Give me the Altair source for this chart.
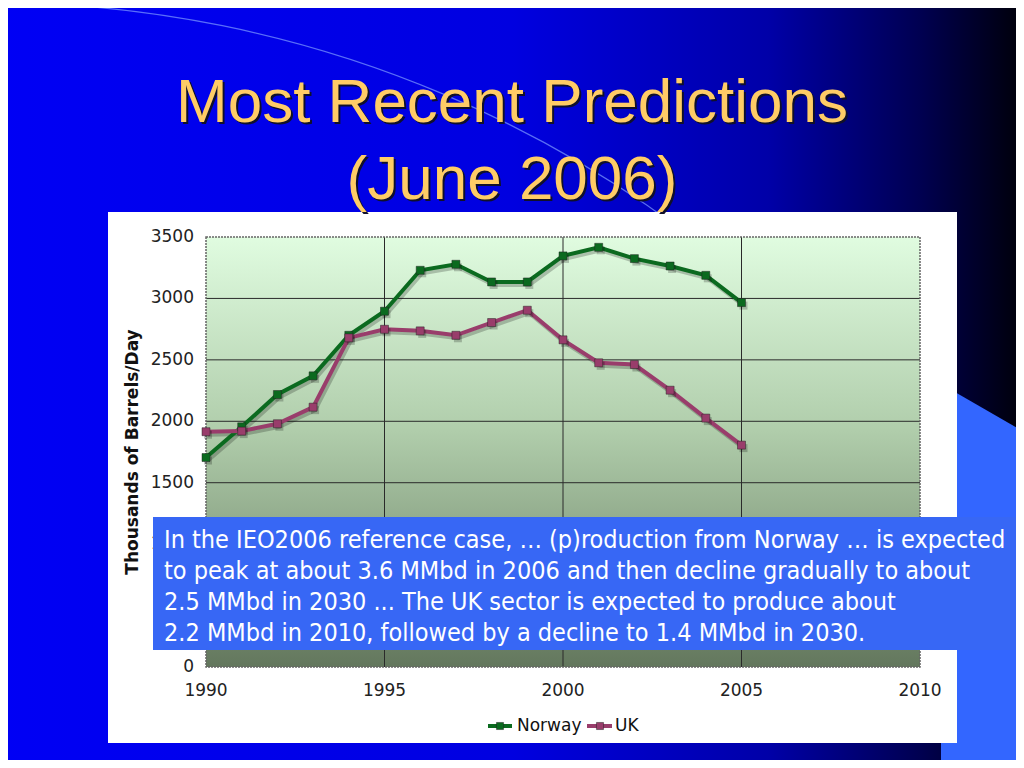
import altair as alt
import pandas as pd

# ---------------- data ----------------
years = list(range(1990, 2006))
norway = [1705, 1955, 2218, 2370, 2700, 2896, 3229, 3278, 3134, 3134,
          3346, 3416, 3324, 3264, 3188, 2966]
uk = [1915, 1920, 1980, 2115, 2679, 2749, 2736, 2700, 2804, 2904,
      2663, 2476, 2462, 2253, 2026, 1806]
series = ["Norway", "UK"]
series_colors = ["#0b6a1f", "#993d6b"]

y_ticks = [0, 500, 1000, 1500, 2000, 2500, 3000, 3500]
x_ticks = [1990, 1995, 2000, 2005, 2010]
y_grid = [500, 1000, 1500, 2000, 2500, 3000]
x_grid = [1995, 2000, 2005]

title_lines = ["Most Recent Predictions", "(June 2006)"]
y_title = "Thousands of Barrels/Day"
note_lines = [
    "In the IEO2006 reference case, \u2026 (p)roduction from Norway \u2026 is expected",
    "to peak at about 3.6 MMbd in 2006 and then decline gradually to about",
    "2.5 MMbd in 2030 ... The UK sector is expected to produce about",
    "2.2 MMbd in 2010, followed by a decline to 1.4 MMbd in 2030.",
]

# ---------------- layout helpers ----------------
W, H = 714, 430          # plot area
OX, OY = 206, 237        # plot origin on the page


def px(x):
    return x - OX


def py(y):
    return y - OY


xs = alt.Scale(domain=[1990, 2010], nice=False, zero=False)
ys = alt.Scale(domain=[0, 3500], nice=False, zero=False)

one = pd.DataFrame({"a": [0]})
base = alt.Chart(one)

df = pd.DataFrame({
    "year": years * 2,
    "value": norway + uk,
    "country": ["Norway"] * len(years) + ["UK"] * len(years),
})

X = alt.X("year:Q", scale=xs, axis=None)
Y = alt.Y("value:Q", scale=ys, axis=None)
C = alt.Color("country:N", scale=alt.Scale(domain=series, range=series_colors), legend=None)

layers = []

# slide background
layers.append(base.mark_rect(color=alt.LinearGradient(
    gradient="linear", x1=0, x2=1, y1=0, y2=0,
    stops=[alt.GradientStop(offset=0, color="#0000f5"),
           alt.GradientStop(offset=0.5, color="#0000e0"),
           alt.GradientStop(offset=0.75, color="#0000a8"),
           alt.GradientStop(offset=0.9, color="#000050"),
           alt.GradientStop(offset=1, color="#000008")])).encode(
    x=alt.value(px(0)), x2=alt.value(px(1024)), y=alt.value(py(0)), y2=alt.value(py(768))))

# decorative arc
layers.append(base.mark_arc(theta=0, theta2=0.8, radius=1160, radius2=1158.8,
                            color="#7f9cff", opacity=0.7).encode(
    x=alt.value(px(-8)), y=alt.value(py(1162))))

# decorative light-blue polygon bottom right
layers.append(base.mark_point(shape="M0,0L83,48L83,384L0,384Z", size=4, filled=True,
                              color="#3366ff", opacity=1, strokeWidth=0).encode(
    x=alt.value(px(941)), y=alt.value(py(384))))

# white chart panel
layers.append(base.mark_rect(color="white").encode(
    x=alt.value(px(108)), x2=alt.value(px(957)), y=alt.value(py(212)), y2=alt.value(py(743))))

# plot background gradient
layers.append(base.mark_rect(color=alt.LinearGradient(
    gradient="linear", x1=0, x2=0, y1=0, y2=1,
    stops=[alt.GradientStop(offset=0, color="#e0fce0"),
           alt.GradientStop(offset=0.45, color="#b0cdab"),
           alt.GradientStop(offset=1, color="#63775d")])).encode(
    x=alt.value(0), x2=alt.value(W), y=alt.value(0), y2=alt.value(H)))

# grid lines
layers.append(alt.Chart(pd.DataFrame({"v": y_grid})).mark_rule(color="#2a2a2a", strokeWidth=1).encode(
    y=alt.Y("v:Q", scale=ys, axis=None), x=alt.value(0), x2=alt.value(W)))
layers.append(alt.Chart(pd.DataFrame({"v": x_grid})).mark_rule(color="#2a2a2a", strokeWidth=1).encode(
    x=alt.X("v:Q", scale=xs, axis=None), y=alt.value(0), y2=alt.value(H)))

# plot border
layers.append(base.mark_rect(fillOpacity=0, stroke="#666666", strokeWidth=1.5, strokeDash=[2, 1]).encode(
    x=alt.value(0), x2=alt.value(W), y=alt.value(0), y2=alt.value(H)))

# data: shadows, lines, markers
layers.append(alt.Chart(df).mark_line(color="#000000", opacity=0.22, strokeWidth=4,
                                      xOffset=2, yOffset=3).encode(x=X, y=Y, detail="country:N"))
layers.append(alt.Chart(df).mark_line(strokeWidth=4).encode(x=X, y=Y, color=C))
layers.append(alt.Chart(df).mark_square(size=64, color="#000000", opacity=0.22,
                                        xOffset=2, yOffset=3).encode(x=X, y=Y))
layers.append(alt.Chart(df).mark_square(size=64, opacity=1, stroke="#222222",
                                        strokeWidth=0.8, strokeOpacity=0.6).encode(x=X, y=Y, color=C))

# tick labels
layers.append(alt.Chart(pd.DataFrame({"v": y_ticks, "lab": [str(v) for v in y_ticks]})).mark_text(
    align="right", baseline="middle", font="DejaVu Sans", fontSize=17, color="#222222").encode(
    y=alt.Y("v:Q", scale=ys, axis=None), x=alt.value(px(194)), text="lab:N"))
layers.append(alt.Chart(pd.DataFrame({"v": x_ticks, "lab": [str(v) for v in x_ticks]})).mark_text(
    align="center", baseline="middle", font="DejaVu Sans", fontSize=17, color="#222222").encode(
    x=alt.X("v:Q", scale=xs, axis=None), y=alt.value(py(691)), text="lab:N"))

# y-axis title
layers.append(base.mark_text(text=y_title, angle=270, font="DejaVu Sans", fontWeight="bold",
                             fontSize=17, color="#111111", align="center", baseline="middle").encode(
    x=alt.value(px(133)), y=alt.value(py(452))))

# legend
leg = [(488, 512, 500, 517), (587, 612, 600, 615)]
for (name, col), (l0, l1, sq, tx) in zip(zip(series, series_colors), leg):
    layers.append(base.mark_rule(color=col, strokeWidth=4).encode(
        x=alt.value(px(l0)), x2=alt.value(px(l1)), y=alt.value(py(726))))
    layers.append(base.mark_square(size=50, color=col, opacity=1, stroke="#222222",
                                   strokeWidth=0.8, strokeOpacity=0.6).encode(
        x=alt.value(px(sq)), y=alt.value(py(726))))
    layers.append(base.mark_text(text=name, align="left", baseline="middle", font="DejaVu Sans",
                                 fontSize=17, color="#111111").encode(
        x=alt.value(px(tx)), y=alt.value(py(726))))

# title (shadow + text)
for line, yb in zip(title_lines, [122, 199]):
    layers.append(base.mark_text(text=line, align="center", baseline="alphabetic",
                                 font="Liberation Sans", fontSize=62, color="#10102a").encode(
        x=alt.value(px(514)), y=alt.value(py(yb + 2))))
    layers.append(base.mark_text(text=line, align="center", baseline="alphabetic",
                                 font="Liberation Sans", fontSize=62, color="#ffcc66").encode(
        x=alt.value(px(512)), y=alt.value(py(yb))))

# note box
layers.append(base.mark_rect(color="#3767f5").encode(
    x=alt.value(px(153)), x2=alt.value(px(1024)), y=alt.value(py(517)), y2=alt.value(py(650))))
for line, yb in zip(note_lines, [548, 579, 610, 641]):
    layers.append(base.mark_text(text=line, align="left", baseline="alphabetic",
                                 font="DejaVu Sans Condensed", fontSize=25, color="white").encode(
        x=alt.value(px(164)), y=alt.value(py(yb))))

chart = alt.layer(*layers).properties(
    width=W, height=H,
    padding={"left": 198, "top": 229, "right": 96, "bottom": 93},
    autosize=alt.AutoSizeParams(type="none"),
    background="#0000f0",
).configure_view(strokeWidth=0)

chart.save("out.html", embed_options={"renderer": "svg", "actions": False})
